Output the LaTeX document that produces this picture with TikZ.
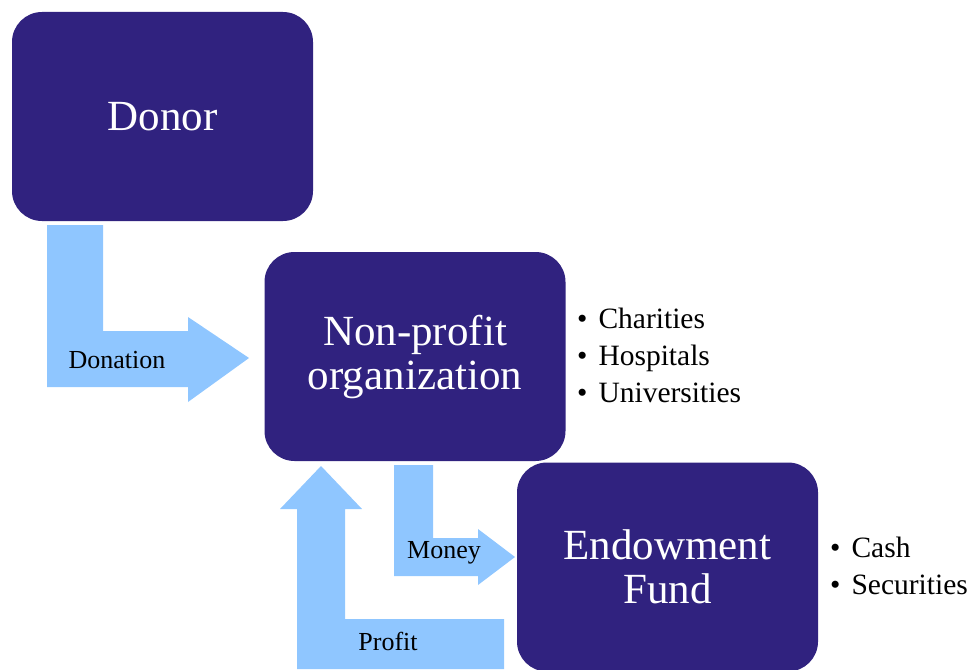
\documentclass[tikz,border=0pt]{standalone}
\usepackage{fontspec}
\setmainfont{Liberation Serif}
\usepackage{tikz}

\definecolor{boxblue}{HTML}{30227F}
\definecolor{flowblue}{HTML}{8FC6FF}

\newcommand{\itemdot}{\textbullet\hspace{11pt}}

\tikzset{
  bigbox/.style={fill=boxblue, rounded corners=30pt, minimum width=301pt, minimum height=209pt,
    text=white, align=center, font=\fontsize{43}{44}\selectfont, inner sep=0pt},
  flow/.style={fill=flowblue, draw=none},
  flowlabel/.style={font=\fontsize{26}{26}\selectfont, inner sep=0pt},
  bullets/.style={anchor=west, align=left, font=\fontsize{29.5}{37}\selectfont, inner sep=0pt}
}

\begin{document}
\begin{tikzpicture}[x=1pt, y=-1pt]
\useasboundingbox (0,0) rectangle (973,669);

\node[bigbox] (donor) at (162.5,116.5) {Donor};
\node[bigbox] (nonprofit) at (415,356.5) {Non-profit\\organization};
\node[bigbox] (fund) at (667.5,567) {Endowment\\Fund};

% block arrows between the boxes
\fill[flow] (47,225) -- (103,225) -- (103,331) -- (188,331) -- (188,317) -- (249,358)
  -- (188,402) -- (188,387) -- (47,387) -- cycle;
\fill[flow] (394,465) -- (433,465) -- (433,538) -- (478,538) -- (478,529) -- (515,557)
  -- (478,585) -- (478,576) -- (394,576) -- cycle;
\fill[flow] (297,669) -- (297,509) -- (280,509) -- (321,466) -- (362,509) -- (345,509)
  -- (345,619) -- (504,619) -- (504,669) -- cycle;

\node[flowlabel] (donation) at (117,360) {Donation};
\node[flowlabel] (money) at (444,553) {Money};
\node[flowlabel] (profit) at (388,641) {Profit};

\node[bullets] (kinds) at (577,355) {\itemdot Charities\\\itemdot Hospitals\\\itemdot Universities};
\node[bullets] (assets) at (830,566) {\itemdot Cash\\\itemdot Securities};
\end{tikzpicture}
\end{document}
